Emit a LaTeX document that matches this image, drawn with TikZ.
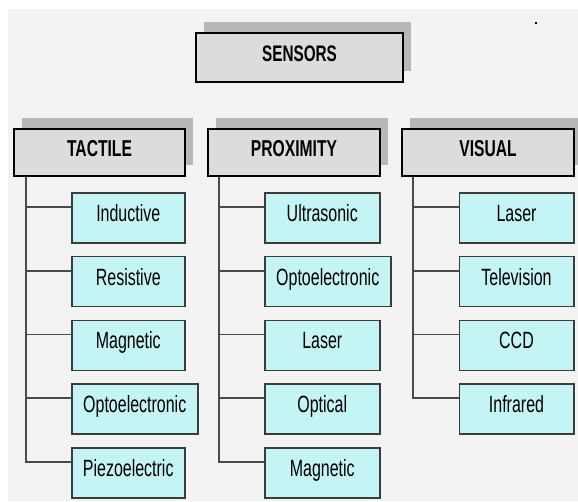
\documentclass[tikz,border=0pt]{standalone}
\usepackage{fontspec}
\setmainfont{Liberation Sans}
\newfontfamily\narrowfont[FakeStretch=0.68]{Liberation Sans}
\usetikzlibrary{shadows}
\definecolor{bgc}{HTML}{F3F3F3}
\definecolor{hdrfill}{HTML}{DCDCDC}
\definecolor{shadowc}{HTML}{B8B8B8}
\definecolor{kidfill}{HTML}{C4F4F4}
\definecolor{kidline}{HTML}{3C3C3C}
\definecolor{wire}{HTML}{4A4A4A}
\tikzset{
  hdrbox/.style={draw=black, line width=2pt, fill=hdrfill, rectangle, anchor=north west,
    inner xsep=0pt, inner ysep=0pt, text height=27pt, text depth=20pt,
    minimum height=47pt, font=\narrowfont\fontsize{23}{25}\selectfont\bfseries,
    general shadow={shadow xshift=8pt, shadow yshift=11pt, fill=shadowc}},
  kidbox/.style={draw=kidline, line width=1.5pt, fill=kidfill, rectangle, anchor=north west,
    inner xsep=0pt, inner ysep=0pt, text height=28.5pt, text depth=21.5pt,
    minimum height=50pt, font=\narrowfont\fontsize{23.5}{25}\selectfont},
  wireline/.style={draw=wire, line width=1.6pt}
}
\begin{document}
\begin{tikzpicture}[x=1pt, y=-1pt]
\useasboundingbox (0,0) rectangle (578,501);
\fill[bgc] (8,9) rectangle (578,501);
\fill[black] (535,22) rectangle (537,24);
% headers
\node[hdrbox, minimum width=207pt, text height=28pt, text depth=21pt, minimum height=49pt,
      font=\narrowfont\fontsize{22.5}{25}\selectfont\bfseries] (sens) at (195,32) {SENSORS};
\node[hdrbox, minimum width=171pt] (tac) at (13,128) {TACTILE};
\node[hdrbox, minimum width=172pt] (pro) at (207,128) {PROXIMITY};
\node[hdrbox, minimum width=172pt] (vis) at (401,128) {VISUAL};
% tactile children
\node[kidbox, minimum width=113pt] (t1) at (71,192) {Inductive};
\node[kidbox, minimum width=113pt] (t2) at (71,255.75) {Resistive};
\node[kidbox, minimum width=113pt] (t3) at (71,319.5) {Magnetic};
\node[kidbox, minimum width=126pt] (t4) at (71,383.25) {Optoelectronic};
\node[kidbox, minimum width=113pt] (t5) at (71,447) {Piezoelectric};
% proximity children
\node[kidbox, minimum width=115pt] (p1) at (264,192) {Ultrasonic};
\node[kidbox, minimum width=126pt] (p2) at (264,255.75) {Optoelectronic};
\node[kidbox, minimum width=115pt] (p3) at (264,319.5) {Laser};
\node[kidbox, minimum width=115pt] (p4) at (264,383.25) {Optical};
\node[kidbox, minimum width=115pt] (p5) at (264,447) {Magnetic};
% visual children
\node[kidbox, minimum width=114.5pt] (v1) at (458.5,192) {Laser};
\node[kidbox, minimum width=114.5pt] (v2) at (458.5,255.75) {Television};
\node[kidbox, minimum width=114.5pt] (v3) at (458.5,319.5) {CCD};
\node[kidbox, minimum width=114.5pt] (v4) at (458.5,383.25) {Infrared};
% connection points
\coordinate (tv) at ([xshift=13pt]tac.south west);
\coordinate (pv) at ([xshift=12pt]pro.south west);
\coordinate (vv) at ([xshift=12pt]vis.south west);
\foreach \n in {t1,t2,t3,t4,t5,p1,p2,p3,p4,p5,v1,v2,v3,v4}
  \coordinate (\n c) at ([yshift=-15pt]\n.north west);
% connectors
\draw[wireline] (tv) |- (t5c);
\foreach \n in {t1,t2,t3,t4} \draw[wireline] (tv |- \n c) -- (\n c);
\draw[wireline] (pv) |- (p5c);
\foreach \n in {p1,p2,p3,p4} \draw[wireline] (pv |- \n c) -- (\n c);
\draw[wireline] (vv) |- (v4c);
\foreach \n in {v1,v2,v3} \draw[wireline] (vv |- \n c) -- (\n c);
\end{tikzpicture}
\end{document}
